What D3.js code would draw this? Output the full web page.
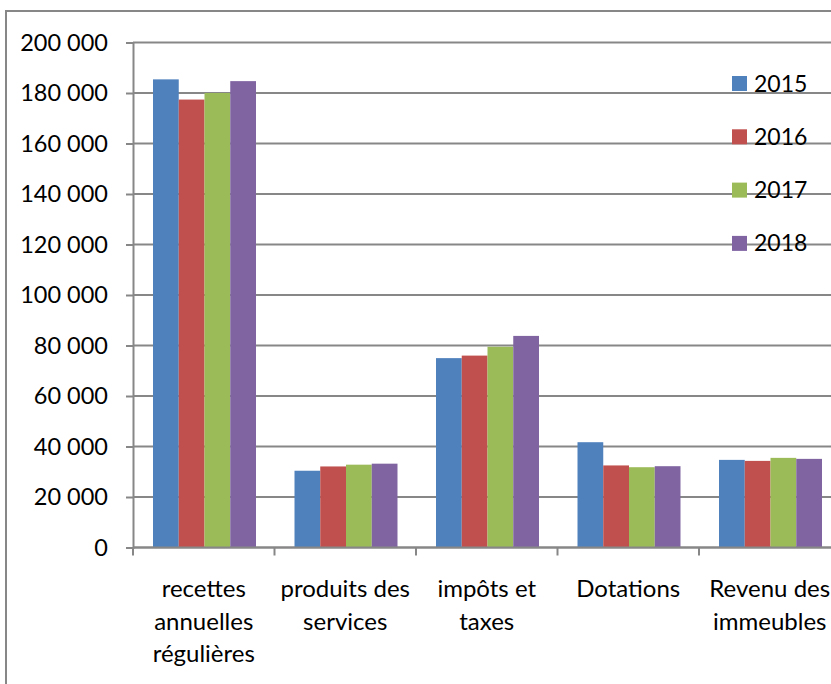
<!DOCTYPE html>
<html>
<head>
<meta charset="utf-8">
<script src="https://cdn.jsdelivr.net/npm/d3@7"></script>
<style>
  body { margin: 0; background: #fff; }
  svg { display: block; font-family: Lato, "Open Sans", sans-serif; }
</style>
</head>
<body>
<svg id="chart"></svg>
<script>
// categories and their wrapped labels
const categories = ["recettes", "produits", "impots", "dotations", "revenu"];
const categoryLabels = [
    ["recettes", "annuelles", "régulières"],
    ["produits des", "services"],
    ["impôts et", "taxes"],
    ["Dotations"],
    ["Revenu des", "immeubles"]
];
const years = ["2015", "2016", "2017", "2018"];
const values2015 = [185400, 30400, 75000, 41700, 34700];
const values2016 = [177400, 32100, 76000, 32500, 34300];
const values2017 = [180000, 32800, 79500, 31800, 35500];
const values2018 = [184700, 33200, 83800, 32200, 35100];
const yTicks = [0, 20000, 40000, 60000, 80000, 100000, 120000, 140000, 160000, 180000, 200000];
const colors = ["#4F81BD", "#C0504D", "#9BBB59", "#8064A2"];

const series = [values2015, values2016, values2017, values2018];

const width = 831;
const height = 684;
const plotLeft = 133, plotRight = 840.5, plotTop = 42.5, plotBottom = 547.5;
const gray = "#878787";

let svg = d3.select("#chart").attr("width", width).attr("height", height);

// outer chart border (only top and left visible)
svg.append("path")
    .attr("d", `M6,${height} V11 H${width}`)
    .attr("fill", "none")
    .attr("stroke", gray)
    .attr("stroke-width", 2);

let scX = d3.scaleBand().domain(categories).range([plotLeft, plotRight]);
let scInner = d3.scaleBand().domain(years).range([20, scX.bandwidth() - 18.5]);
let scY = d3.scaleLinear().domain([0, 200000]).range([plotBottom, plotTop]);

let fr = d3.formatLocale({ decimal: ",", thousands: " ", grouping: [3], currency: ["", "€"] });
let fmt = fr.format(",.0f");

// gridlines
svg.append("g")
    .selectAll("line")
    .data(yTicks)
    .enter()
    .append("line")
    .attr("x1", plotLeft)
    .attr("x2", width)
    .attr("y1", d => scY(d))
    .attr("y2", d => scY(d))
    .attr("stroke", gray)
    .attr("stroke-width", 2);

// y axis
let axisY = d3.axisLeft(scY).tickValues(yTicks).tickSize(7).tickPadding(18).tickFormat(fmt);
let gy = svg.append("g")
    .attr("transform", `translate(${plotLeft},0)`)
    .call(axisY);
gy.select(".domain").attr("stroke", gray).attr("stroke-width", 2);
gy.selectAll(".tick line").attr("stroke", gray).attr("stroke-width", 2);
gy.selectAll("text")
    .attr("font-family", "Lato, sans-serif")
    .attr("font-size", "23.5px")
    .attr("fill", "#000");

// bars
series.forEach((vals, si) => {
    svg.append("g")
        .selectAll("rect")
        .data(vals)
        .enter()
        .append("rect")
        .attr("x", (d, i) => scX(categories[i]) + scInner(years[si]))
        .attr("y", d => scY(d))
        .attr("width", scInner.bandwidth())
        .attr("height", d => plotBottom - scY(d))
        .attr("fill", colors[si]);
});

// x axis line and ticks at category boundaries
let boundaries = categories.map(c => scX(c)).concat([plotRight]);
svg.append("line")
    .attr("x1", plotLeft).attr("x2", width)
    .attr("y1", plotBottom).attr("y2", plotBottom)
    .attr("stroke", gray).attr("stroke-width", 2);
svg.append("g")
    .selectAll("line")
    .data(boundaries)
    .enter()
    .append("line")
    .attr("x1", d => d).attr("x2", d => d)
    .attr("y1", plotBottom).attr("y2", plotBottom + 8)
    .attr("stroke", gray).attr("stroke-width", 2);

// category labels
let lab = svg.append("g")
    .selectAll("text")
    .data(categories)
    .enter()
    .append("text")
    .attr("text-anchor", "middle")
    .attr("font-size", "24px")
    .attr("fill", "#000");
lab.each(function (c, i) {
    let t = d3.select(this);
    categoryLabels[i].forEach((line, li) => {
        t.append("tspan")
            .attr("x", scX(c) + scX.bandwidth() / 2)
            .attr("y", 597 + li * 32.5)
            .text(line);
    });
});

// legend
let leg = svg.append("g")
    .selectAll("g")
    .data(years)
    .enter()
    .append("g")
    .attr("transform", (d, i) => `translate(732, ${76 + i * 53.3})`);
leg.append("rect")
    .attr("width", 15)
    .attr("height", 15)
    .attr("fill", (d, i) => colors[i]);
leg.append("text")
    .attr("x", 22)
    .attr("y", 15.5)
    .attr("font-size", "23px")
    .attr("fill", "#000")
    .text(d => d);
</script>
</body>
</html>
